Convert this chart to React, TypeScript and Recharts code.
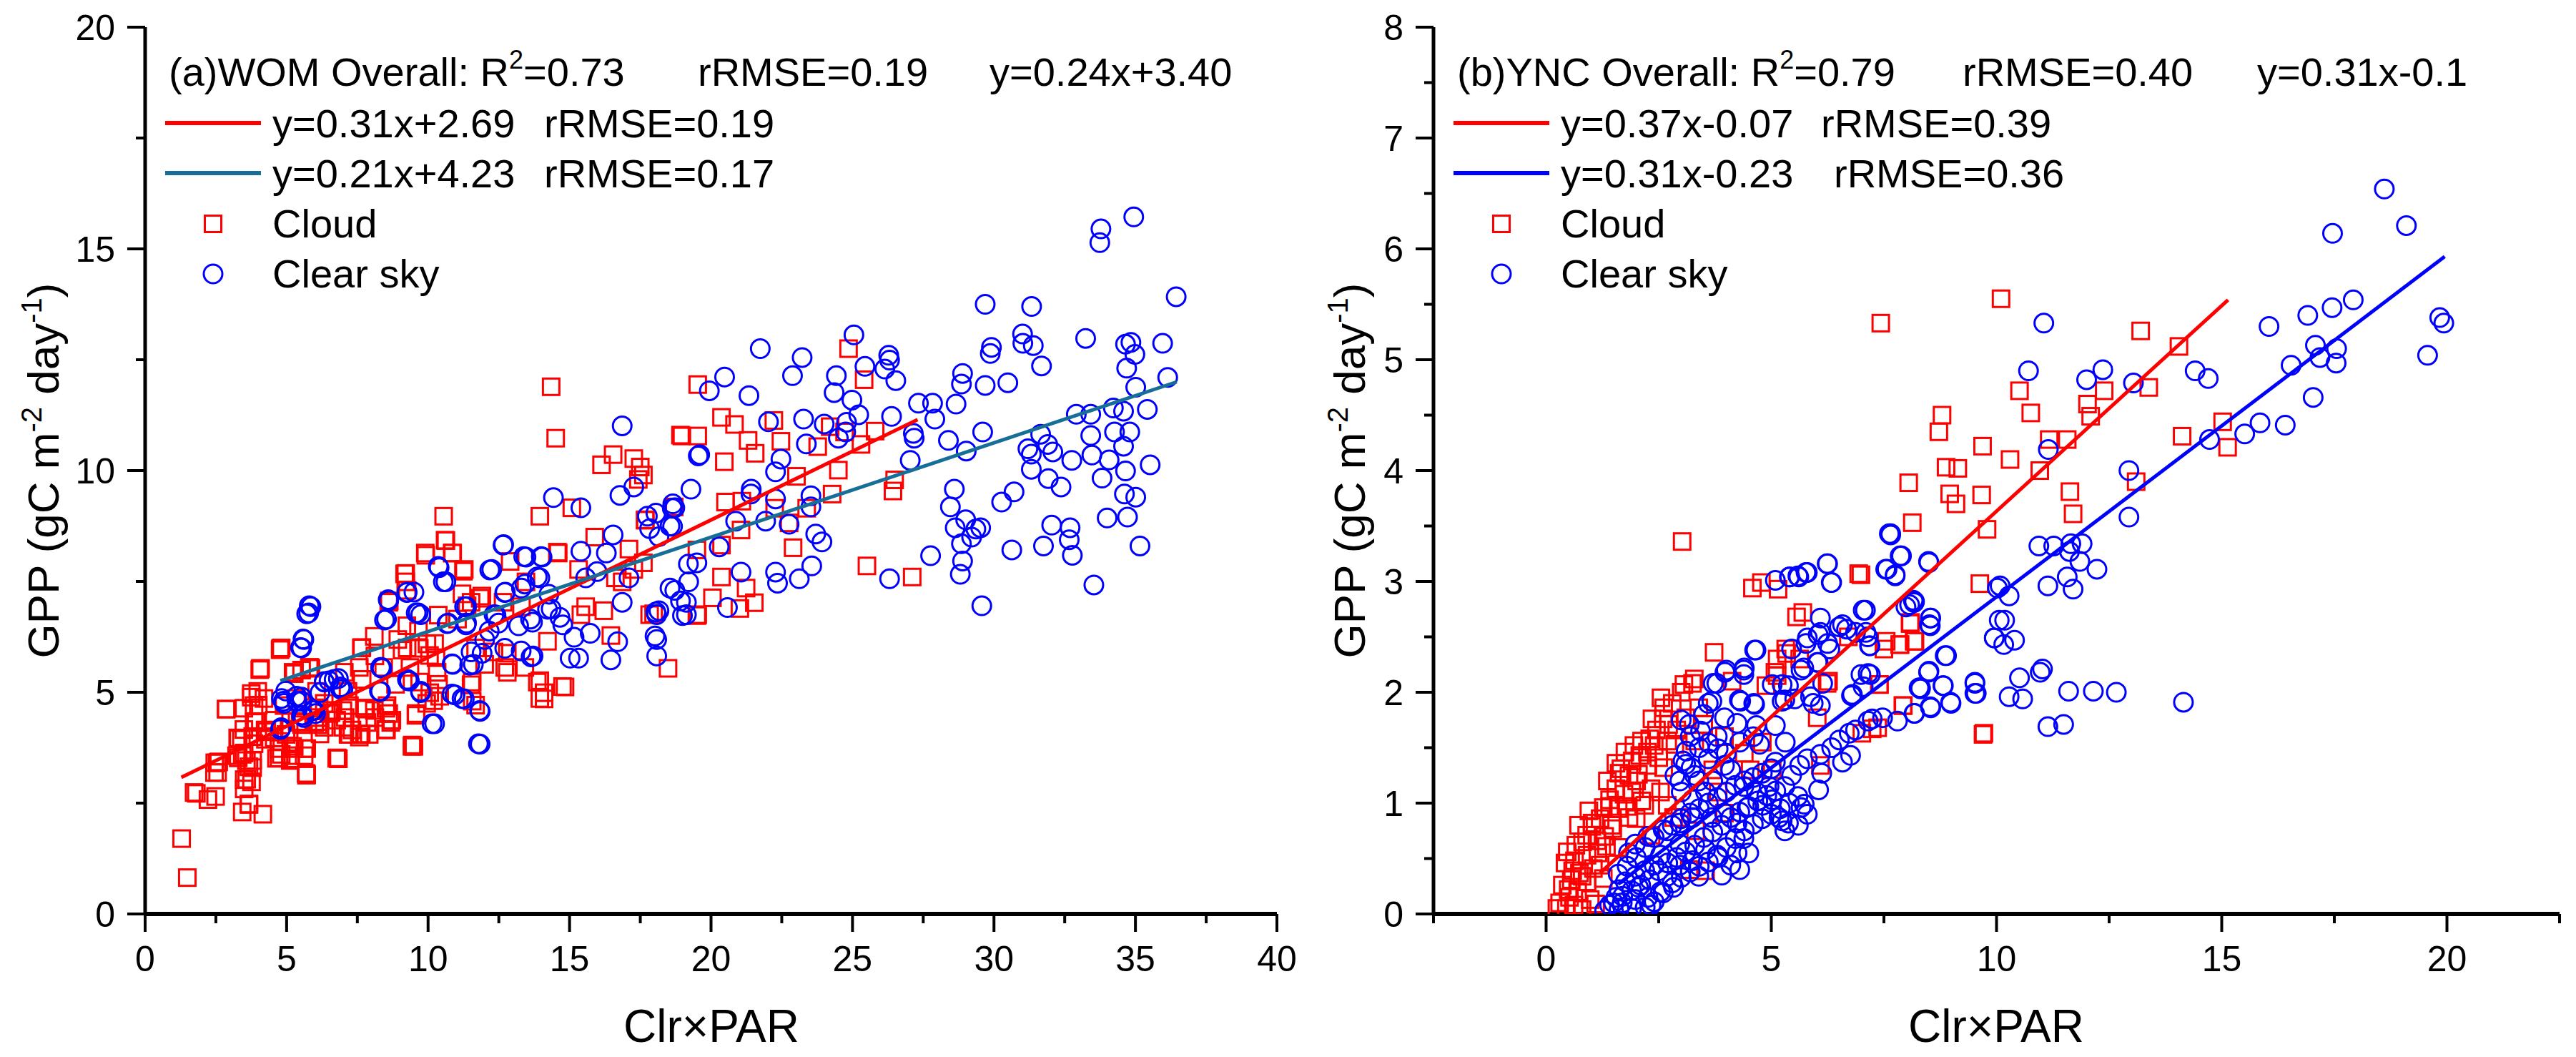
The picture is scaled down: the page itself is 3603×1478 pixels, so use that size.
import React from "react";
import { ScatterChart, Scatter, XAxis, YAxis } from "recharts";

const FONT = "'Liberation Sans', Arial, sans-serif";
const RED = "#FF0000";
const BLUE = "#0000FF";
const TEAL = "#176E96";

// ---- ticks ----
const womXTicks = [0, 2.5, 5, 7.5, 10, 12.5, 15, 17.5, 20, 22.5, 25, 27.5, 30, 32.5, 35, 37.5, 40];
const womYTicks = [0, 2.5, 5, 7.5, 10, 12.5, 15, 17.5, 20];
const yncXTicks = [-2.5, 0, 2.5, 5, 7.5, 10, 12.5, 15, 17.5, 20, 22.5];
const yncYTicks = [0, 0.5, 1, 1.5, 2, 2.5, 3, 3.5, 4, 4.5, 5, 5.5, 6, 6.5, 7, 7.5, 8];

// ---- (a) WOM ----
const womCloud = [
  [1.29, 1.7], [1.49, 0.82], [1.81, 2.72], [2.22, 2.58], [2.46, 3.41], [2.86, 4.62], [3.27, 3.97], [3.43, 3.6],
  [3.43, 2.3], [3.67, 2.48], [4.16, 2.25], [3.59, 3.04], [3.67, 3.32], [3.75, 4.89], [4.0, 4.71], [4.08, 5.54],
  [3.92, 4.34], [4.24, 4.15], [4.56, 3.97], [4.81, 6.0], [4.81, 3.6], [5.13, 3.5], [5.21, 3.78], [5.37, 4.34],
  [5.7, 3.13], [5.53, 5.5], [5.86, 5.54], [6.1, 4.34], [6.18, 4.06], [6.5, 4.52], [6.83, 3.5], [7.07, 4.43],
  [7.31, 4.15], [7.64, 4.06], [7.64, 6.0], [7.8, 4.62], [8.12, 5.82], [8.12, 4.43], [8.53, 4.15], [8.61, 4.52],
  [8.61, 7.03], [8.93, 6.19], [9.17, 7.67], [9.26, 7.3], [9.26, 6.0], [9.5, 3.78], [9.58, 4.52], [9.66, 6.38],
  [9.9, 8.14], [10.06, 4.99], [10.23, 6.1], [10.55, 8.97], [10.63, 8.42], [10.87, 8.14], [11.28, 7.77], [11.04, 6.65],
  [11.52, 7.03], [11.68, 6.0], [11.84, 7.12], [11.52, 5.17], [11.68, 4.71], [12.0, 5.63], [12.33, 5.91], [12.65, 7.03],
  [12.8, 5.45], [12.9, 7.95], [13.3, 6.93], [13.46, 7.49], [13.95, 8.97], [13.95, 5.26], [14.1, 4.99], [14.1, 4.85],
  [14.35, 11.89], [14.51, 10.73], [14.84, 5.12], [14.6, 8.14], [15.08, 9.16], [15.32, 7.77], [15.4, 6.75], [15.57, 6.93],
  [15.89, 8.5], [16.13, 10.13], [16.21, 6.84], [16.46, 6.28], [16.54, 10.36], [16.62, 7.58], [16.86, 7.49], [17.1, 8.23],
  [17.27, 10.27], [17.43, 9.8], [17.5, 10.08], [17.27, 7.77], [17.67, 8.88], [17.83, 6.75], [18.48, 5.54], [18.97, 10.78],
  [19.53, 11.94], [19.53, 10.78], [19.53, 6.75],
  [24.86, 12.75], [25.41, 12.05], [20.37, 11.2], [20.83, 11.04], [18.92, 10.8], [21.31, 10.68], [22.22, 11.13], [22.47, 10.66],
  [21.56, 10.39], [20.47, 10.2], [24.21, 10.99], [24.72, 10.87], [25.8, 10.89], [25.3, 10.59], [23.77, 10.54], [17.61, 9.9],
  [24.5, 10.01], [23.02, 9.87], [26.49, 9.79], [26.43, 9.54], [24.28, 9.47], [20.51, 9.29], [21.09, 9.31], [22.25, 9.15],
  [23.38, 9.15], [22.76, 8.82], [21.06, 8.66], [18.7, 9.18], [17.68, 8.89], [20.37, 8.32], [22.9, 8.26], [19.5, 8.21],
  [17.61, 7.92], [20.37, 7.6], [20.05, 7.13], [21.24, 7.35], [21.53, 7.02], [21.02, 6.89], [19.5, 6.73], [17.97, 6.77],
  [25.51, 7.85], [27.11, 7.6],
  [10.6, 8.43], [10.85, 8.14], [9.92, 8.09], [11.25, 7.73], [9.21, 7.68], [9.21, 7.49], [14.57, 8.16], [8.63, 7.06],
  [11.2, 7.22], [11.9, 7.17], [11.38, 6.95], [10.36, 6.74], [9.25, 6.5], [8.1, 6.26], [9.08, 5.95], [9.96, 6.09],
  [4.78, 5.98], [4.07, 5.53], [7.66, 6.01], [5.27, 5.42], [5.8, 5.56], [7.57, 5.56], [7.04, 5.45], [2.87, 4.62],
  [3.49, 4.64], [3.98, 5.02], [3.85, 4.7], [4.2, 4.86], [4.91, 4.7], [5.35, 4.86], [6.06, 5.02], [6.15, 4.64],
  [6.59, 4.59], [7.22, 4.7], [7.75, 4.64], [8.1, 4.59], [8.55, 4.7], [8.72, 4.37], [7.92, 4.05], [7.57, 3.99],
  [8.5, 4.16], [7.22, 4.05], [6.77, 4.37], [6.11, 4.27], [5.53, 4.27], [5.09, 4.16], [4.56, 4.37], [3.85, 4.32],
  [3.49, 4.16], [3.4, 3.94], [3.85, 3.84], [4.25, 3.94], [4.73, 3.89], [5.27, 3.73], [5.71, 3.73], [4.64, 3.51],
  [5.13, 3.46], [5.62, 3.57], [6.77, 3.51], [5.71, 3.14], [2.6, 3.43], [3.23, 3.57], [3.58, 3.46], [2.56, 3.19],
  [3.76, 2.98], [9.43, 3.78], [11.56, 5.23], [11.56, 4.8], [13.95, 4.86], [13.86, 5.23], [14.75, 5.13], [10.41, 4.91],
  [10.32, 5.45], [9.7, 5.23], [10.05, 5.83], [12.71, 5.56], [12.8, 5.88], [14.22, 6.15], [13.42, 5.56],
  [1.73, 2.74], [2.49, 2.65], [3.67, 2.47], [3.5, 2.82], [3.5, 3.03], [2.45, 3.19], [2.54, 3.41], [3.29, 3.52],
  [3.8, 3.46], [3.5, 3.63], [3.8, 3.3], [4.73, 3.52], [5.15, 3.57], [5.65, 3.73], [4.73, 3.73], [5.69, 3.17],
  [6.79, 3.52], [4.3, 4.11], [3.8, 4.0], [3.29, 3.95], [4.98, 4.05], [5.48, 4.32], [5.99, 4.32], [6.33, 4.21],
  [6.99, 4.21], [7.17, 4.05], [7.59, 4.05], [8.51, 4.16], [7.84, 4.32], [8.68, 4.32], [9.44, 3.81], [9.57, 4.48],
  [9.95, 4.75], [8.51, 4.64], [7.76, 4.64], [6.99, 4.59], [6.57, 4.54], [6.15, 4.43], [3.75, 4.97], [4.05, 5.51],
  [4.77, 5.96], [5.23, 5.45], [5.82, 5.56], [6.33, 4.75], [7.17, 5.02], [7.67, 5.29], [8.43, 5.56], [8.85, 5.18],
  [9.36, 5.56], [9.69, 5.99], [10.28, 5.78], [10.37, 5.18], [10.2, 4.81],
];

const womClear = [
  [4.81, 4.2], [4.89, 4.8], [4.97, 5.03], [5.37, 4.8], [5.53, 4.89], [5.61, 4.43], [6.02, 4.52], [6.18, 4.99],
  [5.53, 6.0], [5.61, 6.19], [5.78, 6.79], [5.86, 6.93], [6.5, 5.26], [6.9, 5.12], [6.83, 5.31], [8.37, 5.54],
  [8.28, 5.03], [8.53, 6.65], [8.61, 7.07], [9.26, 7.26], [9.5, 7.26], [9.58, 6.79], [9.74, 6.75], [9.34, 5.26],
  [9.74, 4.99], [10.23, 4.29], [10.39, 7.81], [10.63, 7.49], [10.71, 6.56], [10.87, 5.63], [10.95, 4.94], [11.28, 4.85],
  [11.36, 6.93], [11.36, 6.56], [11.52, 5.91], [11.6, 5.63], [11.84, 3.83], [11.84, 4.57], [12.0, 6.19], [12.16, 6.38],
  [12.25, 7.77], [12.33, 6.75], [12.49, 6.56], [12.65, 8.32], [12.73, 7.26], [13.3, 7.35], [13.46, 8.05], [13.62, 6.65],
  [13.71, 5.82], [13.95, 7.58], [14.03, 8.05], [14.27, 7.21], [14.35, 6.88], [14.43, 9.39], [14.76, 6.52], [15.16, 6.24],
  [15.32, 5.77], [15.4, 9.16], [15.4, 8.18], [15.57, 7.58], [15.73, 6.33], [15.97, 7.72], [16.3, 8.14], [16.46, 5.73],
  [16.54, 8.55], [16.7, 6.14], [16.78, 9.44], [16.86, 11.01], [16.86, 7.03], [17.1, 7.58], [17.27, 9.63], [17.75, 8.97],
  [17.83, 8.69], [18.08, 6.75], [18.16, 6.84], [18.08, 6.19], [18.08, 5.82], [18.16, 8.51], [18.64, 8.74], [18.72, 9.16],
  [18.72, 7.3], [19.13, 7.03], [19.13, 6.75], [19.21, 7.49], [19.29, 9.58], [19.6, 10.36], [19.94, 11.8],
  [34.94, 15.72], [33.78, 15.45], [33.74, 15.14], [36.44, 13.92], [29.69, 13.75], [31.33, 13.7], [31.01, 13.08], [31.02, 12.87],
  [31.39, 12.82], [29.91, 12.78], [29.87, 12.64], [31.68, 12.36], [33.24, 12.98], [34.65, 12.85], [34.84, 12.89], [34.98, 12.62],
  [35.96, 12.87], [34.69, 12.31], [35.01, 11.88], [36.14, 12.1], [28.89, 12.19], [28.85, 11.95], [29.69, 11.92], [30.49, 11.98],
  [28.66, 11.5], [25.05, 13.06], [25.44, 12.35], [26.28, 12.6], [26.31, 12.49], [26.14, 12.29], [26.53, 12.03], [24.43, 12.14],
  [24.35, 11.76], [24.98, 11.59], [25.22, 11.26], [26.38, 11.22], [27.33, 11.52], [27.83, 11.52], [27.91, 11.16], [23.22, 12.55],
  [22.88, 12.14], [21.74, 12.75], [20.48, 12.11], [21.34, 11.69], [23.27, 11.16], [22.03, 11.1], [24.0, 11.05], [24.79, 11.09],
  [24.76, 10.87], [24.5, 10.73], [23.37, 10.6], [27.15, 10.84], [27.18, 10.73], [28.39, 10.68], [29.02, 10.44], [29.6, 10.87],
  [27.04, 10.23], [19.55, 10.33], [22.47, 10.26], [22.28, 9.97], [21.42, 9.58], [21.41, 9.47], [22.28, 9.36], [23.53, 9.43],
  [23.53, 9.18], [18.65, 9.25], [18.63, 9.15], [18.55, 8.75], [18.05, 9.04], [20.87, 8.86], [21.93, 8.86], [22.76, 8.79],
  [23.7, 8.57], [23.92, 8.39], [23.56, 7.85], [23.12, 7.56], [22.28, 7.71], [22.35, 7.46], [21.06, 7.71], [20.58, 6.91],
  [20.29, 8.28], [19.5, 7.92], [19.2, 7.89], [18.92, 7.06], [18.99, 6.73], [18.55, 7.35], [18.05, 6.81], [18.02, 6.27],
  [26.31, 7.56], [27.76, 8.08], [28.6, 9.58], [28.46, 9.18], [28.63, 8.71], [28.85, 8.35], [28.89, 7.96], [28.81, 7.66],
  [29.0, 8.89], [29.36, 8.68], [29.53, 8.71], [29.21, 8.5], [29.57, 6.95], [30.27, 9.29], [30.71, 9.52], [30.63, 8.21],
  [31.2, 10.49], [31.32, 10.37], [31.65, 10.82], [31.9, 10.59], [32.08, 10.42], [31.32, 10.03], [31.92, 9.82], [32.37, 9.63],
  [31.75, 8.3], [32.04, 8.77], [32.66, 8.44], [32.69, 8.71], [32.77, 8.09], [32.75, 10.23], [32.91, 11.27], [33.42, 11.27],
  [33.42, 10.79], [33.46, 10.35], [33.82, 9.83], [34.07, 10.24], [34.22, 11.41], [34.58, 11.34], [34.26, 10.87], [34.8, 10.87],
  [34.58, 10.55], [34.65, 9.99], [35.42, 11.38], [35.52, 10.13], [34.61, 9.47], [35.01, 9.4], [34.0, 8.93], [34.72, 8.95],
  [33.53, 7.42], [35.16, 8.3],
  [5.8, 6.95], [5.71, 6.77], [5.58, 6.2], [5.49, 6.01], [4.82, 4.86], [4.91, 4.75], [5.35, 4.91], [5.53, 4.8],
  [4.78, 4.16], [5.53, 4.48], [5.97, 4.59], [6.33, 5.23], [6.68, 5.29], [6.99, 5.07], [8.32, 5.56], [8.32, 5.02],
  [8.59, 7.09], [9.25, 7.25], [9.65, 6.79], [8.46, 6.63], [9.3, 5.26], [9.74, 5.02], [10.14, 4.29], [10.36, 7.84],
  [10.54, 7.49], [10.67, 6.55], [11.29, 6.93], [11.34, 6.52], [10.85, 4.96], [11.2, 4.86], [11.82, 4.59], [11.78, 3.84],
  [10.85, 5.64], [11.47, 5.61], [11.91, 5.88], [12.18, 7.76], [12.67, 8.33], [12.71, 7.25], [13.38, 8.06], [14.0, 8.06],
  [13.42, 7.44], [13.86, 7.6], [12.4, 6.74], [13.2, 6.5], [13.69, 6.58], [14.22, 6.87], [14.66, 6.69], [12.71, 5.99],
  [13.29, 5.93], [13.64, 5.8], [15.02, 5.77],
  [5.57, 4.48], [5.91, 4.59], [6.33, 5.24], [6.91, 5.07], [8.35, 5.56], [8.3, 5.02], [9.27, 5.29], [9.73, 5.02],
];

const womCloudFit = [[1.28, 3.08], [27.3, 11.15]];
const womClearFit = [[4.78, 5.26], [36.46, 12.0]];

// ---- (b) YNC ----
const yncCloud = [
  [10.1, 5.55], [7.43, 5.33], [13.2, 5.26], [14.05, 5.12], [13.38, 4.75], [12.39, 4.72], [10.51, 4.72], [12.02, 4.6],
  [12.09, 4.49], [10.76, 4.52], [8.79, 4.5], [8.72, 4.35], [9.69, 4.22], [10.3, 4.1], [11.17, 4.28], [11.57, 4.28],
  [8.88, 4.03], [9.14, 4.02], [10.96, 4.0], [8.05, 3.89], [8.96, 3.79], [9.1, 3.7], [9.67, 3.78], [11.63, 3.81],
  [11.7, 3.61], [8.13, 3.53], [9.79, 3.47], [15.02, 4.44], [14.12, 4.31], [15.13, 4.21], [13.1, 3.9], [9.63, 2.98],
  [6.99, 3.06], [8.08, 2.62], [7.55, 2.46], [7.85, 2.43], [8.17, 2.46], [7.5, 2.39], [7.4, 2.07], [7.92, 1.88],
  [9.7, 1.62], [7.24, 1.67],
  [3.02, 3.36], [6.94, 3.07], [4.58, 2.94], [4.78, 2.99], [5.15, 2.93], [5.7, 2.72], [5.56, 2.68], [8.09, 2.63],
  [8.19, 2.46], [7.86, 2.43], [6.71, 2.5], [3.73, 2.36], [5.34, 2.35], [5.13, 2.3], [5.63, 2.3], [5.13, 2.15],
  [6.24, 2.08], [7.4, 2.07], [3.06, 2.07], [3.25, 2.08], [4.88, 2.06], [2.61, 1.86], [3.39, 1.86], [6.02, 1.77],
  [7.93, 1.88], [9.72, 1.63], [3.96, 1.6], [2.72, 1.71], [2.3, 1.58], [2.12, 1.56], [2.4, 1.52], [2.86, 1.53],
  [2.08, 1.43], [1.91, 1.38], [1.66, 1.31], [1.62, 1.27], [2.26, 1.34], [2.61, 1.32], [2.01, 1.2], [2.33, 1.13],
  [1.73, 1.08], [1.41, 0.97], [1.8, 0.97], [2.12, 1.02], [1.02, 0.79], [1.48, 0.77], [1.13, 0.66], [1.34, 0.61],
  [0.63, 0.48], [0.91, 0.53], [0.59, 0.39], [0.74, 0.37], [0.49, 0.22], [0.7, 0.2], [0.52, 0.15], [0.24, 0.05],
  [0.98, 0.13], [0.91, 0.29], [1.2, 0.44], [1.27, 0.32], [3.18, 0.4], [3.54, 0.39], [2.33, 0.71], [2.97, 0.87],
  [3.32, 0.75], [3.82, 1.1], [4.53, 1.3], [5.02, 1.3], [3.96, 0.91], [6.09, 1.34], [7.01, 1.63], [7.36, 1.68],
  [0.42, 0.46], [0.81, 0.65], [1.02, 0.82], [1.27, 0.96], [1.41, 1.03], [1.55, 1.13], [1.84, 1.25], [1.84, 0.87],
  [2.19, 0.98], [2.54, 1.1], [2.69, 0.98], [2.83, 0.87],
  [0.3, 0.1], [0.45, 0.05], [0.62, 0.08], [0.8, 0.04], [1.1, 0.09], [0.36, 0.26], [0.56, 0.31], [0.8, 0.34],
  [1.05, 0.41], [0.47, 0.56], [0.66, 0.62], [0.9, 0.71], [1.15, 0.55], [0.72, 0.8], [0.95, 0.93], [1.2, 0.86],
  [1.36, 1.2], [1.55, 1.36], [1.75, 1.46], [1.95, 1.52], [1.45, 0.8], [1.6, 0.95], [1.9, 1.1], [2.05, 1.26],
  [2.25, 1.46], [2.45, 1.66], [2.6, 1.76], [2.5, 1.41], [2.7, 1.56], [2.9, 1.66], [3.1, 1.77], [2.35, 1.76],
  [2.55, 1.95], [2.8, 1.9], [3.0, 2.0], [3.3, 1.56], [3.5, 1.71], [1.3, 0.7], [1.6, 0.6], [2.0, 0.86],
  [5.32, 2.39], [5.08, 2.18], [6.27, 2.1], [3.29, 2.12], [4.13, 2.1], [4.4, 1.45], [4.8, 1.55], [3.7, 1.3],
];

const yncClear = [
  [18.61, 6.54], [19.1, 6.21], [17.46, 6.14], [17.92, 5.54], [17.45, 5.47], [16.91, 5.4], [16.05, 5.3], [19.84, 5.38],
  [19.93, 5.33], [19.57, 5.04], [17.08, 5.13], [17.55, 5.1], [17.18, 5.02], [17.54, 4.97], [16.54, 4.95], [17.03, 4.66],
  [15.85, 4.43], [16.41, 4.41], [15.51, 4.33], [14.73, 4.28], [14.41, 4.9], [14.7, 4.83], [11.05, 5.33], [10.71, 4.9],
  [12.36, 4.91], [12.0, 4.82], [13.04, 4.79], [11.15, 4.19], [12.94, 4.0], [12.94, 3.58], [10.94, 3.32], [11.27, 3.32],
  [11.65, 3.34], [11.9, 3.34], [11.62, 3.27], [11.85, 3.18], [12.23, 3.11], [11.57, 3.04], [11.14, 2.96], [11.7, 2.93],
  [10.08, 2.96], [10.28, 2.87], [10.18, 2.65], [9.95, 2.49], [10.4, 2.47], [10.16, 2.43], [8.86, 2.33], [7.65, 3.43],
  [7.87, 3.23], [7.57, 3.11], [8.49, 3.18], [7.75, 3.06], [8.17, 2.81], [8.54, 2.67], [8.51, 2.61], [7.09, 2.74],
  [7.14, 2.5], [11.02, 2.21], [10.97, 2.18], [10.51, 2.13], [9.52, 2.09], [9.55, 1.99], [10.28, 1.96], [10.58, 1.94],
  [11.6, 2.01], [12.15, 2.01], [12.66, 2.0], [14.15, 1.91], [11.14, 1.69], [11.49, 1.71], [8.49, 2.18], [8.81, 2.06],
  [8.31, 2.04], [8.98, 1.91], [8.54, 1.86], [8.17, 1.81], [7.8, 1.74], [7.24, 1.76],
  [7.65, 3.42], [7.86, 3.23], [8.5, 3.17], [7.54, 3.11], [7.75, 3.05], [6.24, 3.16], [6.34, 2.99], [5.77, 3.08],
  [5.59, 3.05], [5.41, 3.04], [5.09, 3.01], [7.04, 2.74], [6.09, 2.67], [8.07, 2.79], [8.18, 2.82], [8.53, 2.67],
  [8.53, 2.6], [10.02, 2.94], [9.95, 2.49], [10.06, 2.65], [8.89, 2.33], [8.5, 2.19], [8.82, 2.06], [8.99, 1.9],
  [8.28, 2.04], [8.53, 1.87], [8.18, 1.81], [9.52, 2.08], [9.52, 1.99], [7.15, 2.17], [6.8, 1.98], [7.04, 2.05],
  [7.47, 1.77], [7.15, 1.74], [6.87, 1.66], [6.73, 1.63], [6.51, 1.57], [6.34, 1.5], [6.09, 1.44], [5.8, 1.4],
  [5.63, 1.34], [5.45, 1.25], [6.58, 1.37], [6.76, 1.43], [6.12, 1.27], [5.73, 0.99], [5.17, 0.87], [5.38, 0.82],
  [6.05, 1.12], [4.63, 2.38], [4.39, 2.2], [4.0, 2.2], [3.71, 2.08], [4.39, 2.16], [4.32, 1.92], [4.63, 1.89],
  [3.68, 1.92], [3.18, 1.71], [3.43, 1.65], [3.61, 1.54], [3.11, 1.47], [3.04, 1.38], [3.22, 1.32], [3.82, 1.49],
  [3.96, 1.77], [4.24, 1.72], [4.67, 1.7], [5.09, 1.7], [5.24, 1.92], [5.38, 2.06], [5.87, 1.96], [6.09, 1.88],
  [5.66, 2.2], [6.02, 2.27], [6.3, 2.39], [5.8, 2.49], [6.09, 2.54], [6.58, 2.61], [6.87, 2.54], [7.19, 2.42],
  [5.24, 2.07], [5.02, 2.07], [5.52, 1.94], [4.74, 1.53], [5.31, 1.55], [3.96, 1.34], [3.39, 1.2], [2.97, 1.2],
  [2.86, 1.25], [3.54, 1.1], [4.39, 1.15], [4.67, 1.1], [4.81, 0.98], [4.46, 0.96], [4.24, 0.82], [3.96, 0.91],
  [3.68, 0.87], [3.25, 0.87], [2.97, 0.82], [2.69, 0.75], [2.26, 0.7], [1.98, 0.63], [1.83, 0.55], [4.39, 0.68],
  [4.24, 0.55], [4.1, 0.44], [3.82, 0.51], [3.54, 0.58], [2.97, 0.63], [2.54, 0.53], [2.4, 0.44], [2.19, 0.39],
  [1.98, 0.34], [1.76, 0.29], [1.62, 0.22], [1.55, 0.15], [1.41, 0.08], [1.69, 0.1], [1.98, 0.13], [2.26, 0.15],
  [2.33, 0.08], [2.05, 0.24], [2.69, 0.34], [2.97, 0.44], [3.25, 0.48], [3.39, 0.34], [2.83, 0.24], [2.54, 0.2],
  [5.24, 0.84], [5.59, 1.06], [4.95, 1.15], [5.09, 1.37], [5.66, 0.96], [5.02, 1.03], [3.25, 1.03],
  [1.5, 0.1], [1.7, 0.16], [1.9, 0.21], [2.1, 0.26], [2.3, 0.31], [2.5, 0.39], [2.7, 0.46], [2.9, 0.51],
  [3.1, 0.56], [3.3, 0.62], [3.5, 0.69], [3.7, 0.74], [3.9, 0.8], [4.1, 0.87], [4.3, 0.92], [4.5, 0.97],
  [4.7, 1.02], [4.9, 1.07], [5.1, 1.11], [5.3, 1.15], [1.6, 0.36], [1.8, 0.43], [2.0, 0.51], [2.2, 0.6],
  [2.4, 0.69], [2.6, 0.76], [2.8, 0.8], [3.0, 0.86], [3.2, 0.91], [3.4, 0.95], [3.6, 1.0], [3.8, 1.05],
  [4.0, 1.1], [4.2, 1.16], [4.4, 1.2], [4.6, 1.23], [4.8, 1.27], [5.0, 1.31], [1.3, 0.03], [1.62, 0.04],
  [1.9, 0.05], [2.2, 0.06], [2.4, 0.11], [2.6, 0.19], [2.8, 0.28], [3.0, 0.33], [3.2, 0.38], [3.4, 0.43],
  [3.6, 0.47], [3.8, 0.53], [4.0, 0.6], [4.2, 0.68], [4.4, 0.75], [4.6, 0.81], [4.8, 0.86], [5.0, 0.9],
  [5.2, 0.95], [5.4, 1.0], [3.0, 1.75], [3.2, 1.6], [3.4, 1.5], [3.1, 1.35], [3.3, 1.25], [3.6, 1.4],
  [3.8, 1.6], [4.0, 1.45], [3.5, 1.8], [3.7, 1.2], [3.0, 1.1], [4.3, 1.55], [4.6, 1.6], [4.1, 1.3],
  [5.6, 0.8], [5.3, 0.75], [5.8, 0.9], [4.5, 0.55], [4.3, 0.4], [3.9, 0.35],
  [5.4, 3.04], [5.61, 3.04], [5.8, 3.08], [6.25, 3.16], [6.33, 2.99], [7.62, 3.43], [7.89, 3.23], [8.15, 2.83],
  [7.99, 2.77], [6.51, 2.59], [6.67, 2.57], [7.1, 2.54], [6.04, 2.52], [6.25, 2.44], [5.77, 2.44], [5.45, 2.39],
  [7.18, 2.42], [4.66, 2.38], [4.4, 2.22], [3.97, 2.18], [3.79, 2.08], [6.04, 2.27], [5.72, 2.22], [6.14, 2.08],
  [6.99, 2.16], [7.2, 2.16], [6.78, 1.97], [8.31, 2.03], [4.29, 1.93], [4.61, 1.9], [3.6, 1.9], [5.3, 1.93], [5.93, 1.9],
];

const yncCloudFit = [[1.2, 0.37], [15.14, 5.54]];
const yncClearFit = [[1.6, 0.27], [19.95, 5.93]];

const toPts = (arr: number[][]) => arr.map(([x, y]) => ({ x, y }));

const Square = (p: any) => (
  <rect x={p.cx - 11.5} y={p.cy - 11.5} width={23} height={23} fill="none" stroke={RED} strokeWidth={3} />
);
const Ring = (p: any) => <circle cx={p.cx} cy={p.cy} r={13} fill="none" stroke={BLUE} strokeWidth={3} />;
const NoDot = () => <g />;

function makeXTick(isMajor: (v: number) => boolean) {
  return (props: any) => {
    const { x, y, payload } = props;
    const major = isMajor(payload.value);
    return (
      <g>
        <line x1={x} x2={x} y1={y} y2={y + (major ? 25 : 13)} stroke="#000" strokeWidth={4} />
        {major && (
          <text x={x} y={y + 80} textAnchor="middle" fontSize={50} fontFamily={FONT} fill="#000">
            {payload.value}
          </text>
        )}
      </g>
    );
  };
}

function makeYTick(isMajor: (v: number) => boolean) {
  return (props: any) => {
    const { x, y, payload } = props;
    const major = isMajor(payload.value);
    return (
      <g>
        <line x1={x - (major ? 25 : 13)} x2={x} y1={y} y2={y} stroke="#000" strokeWidth={4} />
        {major && (
          <text x={x - 42} y={y} dy="0.36em" textAnchor="end" fontSize={50} fontFamily={FONT} fill="#000">
            {payload.value}
          </text>
        )}
      </g>
    );
  };
}

const every5 = (v: number) => Math.abs(v % 5) < 1e-6;
const every1 = (v: number) => Number.isInteger(v);

function Panel(props: {
  width: number;
  rightMargin: number;
  xDomain: number[];
  yDomain: number[];
  xTicks: number[];
  yTicks: number[];
  xMajor: (v: number) => boolean;
  yMajor: (v: number) => boolean;
  cloud: number[][];
  clear: number[][];
  cloudFit: number[][];
  clearFit: number[][];
  clearLineColor: string;
}) {
  const axisLine = { stroke: "#000", strokeWidth: 6 };
  const sideLine = { stroke: "#000", strokeWidth: 5 };
  return (
    <ScatterChart width={props.width} height={1478} margin={{ top: 38, right: props.rightMargin, bottom: 0, left: 0 }}>
      <XAxis
        type="number"
        dataKey="x"
        domain={props.xDomain}
        ticks={props.xTicks}
        interval={0}
        allowDataOverflow
        height={200}
        tickSize={0}
        tickMargin={0}
        tickLine={false}
        axisLine={axisLine}
        tick={makeXTick(props.xMajor)}
      />
      <XAxis xAxisId="top" orientation="top" type="number" domain={props.xDomain} allowDataOverflow height={0} tick={false} tickLine={false} axisLine={axisLine} />
      <YAxis
        type="number"
        dataKey="y"
        domain={props.yDomain}
        ticks={props.yTicks}
        interval={0}
        allowDataOverflow
        width={203}
        tickSize={0}
        tickMargin={0}
        tickLine={false}
        axisLine={sideLine}
        tick={makeYTick(props.yMajor)}
      />
      <YAxis yAxisId="right" orientation="right" type="number" domain={props.yDomain} allowDataOverflow width={0} tick={false} tickLine={false} axisLine={sideLine} />
      <Scatter data={toPts(props.cloud)} shape={Square} isAnimationActive={false} />
      <Scatter data={toPts(props.clear)} shape={Ring} isAnimationActive={false} />
      <Scatter data={toPts(props.cloudFit)} shape={NoDot} line={{ stroke: RED, strokeWidth: 5 }} isAnimationActive={false} />
      <Scatter data={toPts(props.clearFit)} shape={NoDot} line={{ stroke: props.clearLineColor, strokeWidth: 5 }} isAnimationActive={false} />
    </ScatterChart>
  );
}

function LegendBlock(props: {
  x0: number;
  title: string;
  r2: string;
  rmse: string;
  fit: string;
  rmseX: number;
  fitX: number;
  rows: { text: string; rmse: string; rmseX: number; color: string }[];
}) {
  const t = { fontSize: 56, fontFamily: FONT, fill: "#000" };
  const { x0 } = props;
  return (
    <g>
      <text x={x0 + 33} y={120} {...t}>
        {props.title} R<tspan dy={-24} fontSize={36}>2</tspan>
        <tspan dy={24}>={props.r2}</tspan>
      </text>
      <text x={props.rmseX} y={120} {...t}>{props.rmse}</text>
      <text x={props.fitX} y={120} {...t}>{props.fit}</text>
      {props.rows.map((r, i) => (
        <g key={i}>
          <line x1={x0 + 28} x2={x0 + 162} y1={172 + i * 70} y2={172 + i * 70} stroke={r.color} strokeWidth={6} />
          <text x={x0 + 178} y={192 + i * 70} {...t}>{r.text}</text>
          <text x={r.rmseX} y={192 + i * 70} {...t}>{r.rmse}</text>
        </g>
      ))}
      <rect x={x0 + 83.5} y={301.5} width={23} height={23} fill="none" stroke={RED} strokeWidth={3} />
      <text x={x0 + 178} y={332} {...t}>Cloud</text>
      <circle cx={x0 + 95} cy={383} r={13} fill="none" stroke={BLUE} strokeWidth={3} />
      <text x={x0 + 178} y={402} {...t}>Clear sky</text>
    </g>
  );
}

function YTitle({ x }: { x: number }) {
  return (
    <text transform={`translate(${x},658) rotate(-90)`} textAnchor="middle" fontSize={62} fontFamily={FONT} fill="#000">
      GPP (gC m<tspan dy={-24} fontSize={40}>-2</tspan>
      <tspan dy={24}> day</tspan>
      <tspan dy={-24} fontSize={40}>-1</tspan>
      <tspan dy={24}>)</tspan>
    </text>
  );
}

export default function App() {
  return (
    <div style={{ position: "absolute", left: 0, top: 0, width: 3603, height: 1478, background: "#fff", overflow: "hidden" }}>
      <div style={{ position: "absolute", left: 0, top: 0 }}>
        <Panel
          width={1860}
          rightMargin={74}
          xDomain={[0, 40]}
          yDomain={[0, 20]}
          xTicks={womXTicks}
          yTicks={womYTicks}
          xMajor={every5}
          yMajor={every5}
          cloud={womCloud}
          clear={womClear}
          cloudFit={womCloudFit}
          clearFit={womClearFit}
          clearLineColor={TEAL}
        />
      </div>
      <div style={{ position: "absolute", left: 1802, top: 0 }}>
        <Panel
          width={1801}
          rightMargin={23}
          xDomain={[-2.5, 22.5]}
          yDomain={[0, 8]}
          xTicks={yncXTicks}
          yTicks={yncYTicks}
          xMajor={every5}
          yMajor={every1}
          cloud={yncCloud}
          clear={yncClear}
          cloudFit={yncCloudFit}
          clearFit={yncClearFit}
          clearLineColor={BLUE}
        />
      </div>
      <svg width={3603} height={1478} style={{ position: "absolute", left: 0, top: 0, pointerEvents: "none" }}>
        <LegendBlock
          x0={203}
          title="(a)WOM Overall:"
          r2="0.73"
          rmse="rRMSE=0.19"
          fit="y=0.24x+3.40"
          rmseX={976}
          fitX={1384}
          rows={[
            { text: "y=0.31x+2.69", rmse: "rRMSE=0.19", rmseX: 761, color: RED },
            { text: "y=0.21x+4.23", rmse: "rRMSE=0.17", rmseX: 761, color: TEAL },
          ]}
        />
        <LegendBlock
          x0={2005}
          title="(b)YNC Overall:"
          r2="0.79"
          rmse="rRMSE=0.40"
          fit="y=0.31x-0.1"
          rmseX={2745}
          fitX={3157}
          rows={[
            { text: "y=0.37x-0.07", rmse: "rRMSE=0.39", rmseX: 2547, color: RED },
            { text: "y=0.31x-0.23", rmse: "rRMSE=0.36", rmseX: 2565, color: BLUE },
          ]}
        />
        <YTitle x={82} />
        <YTitle x={1909} />
        <text x={995} y={1457} textAnchor="middle" fontSize={64} fontFamily={FONT} fill="#000">Clr×PAR</text>
        <text x={2792} y={1457} textAnchor="middle" fontSize={64} fontFamily={FONT} fill="#000">Clr×PAR</text>
      </svg>
    </div>
  );
}
